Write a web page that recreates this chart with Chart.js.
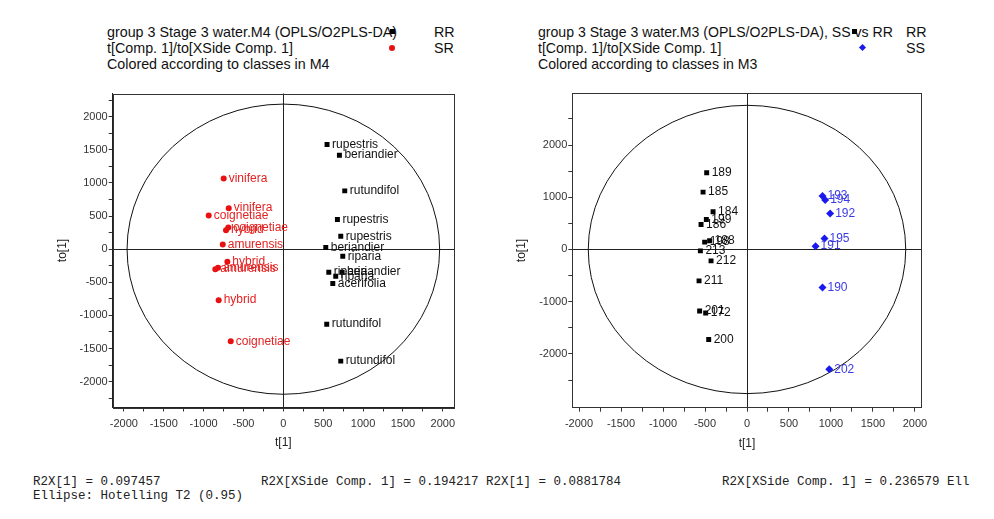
<!DOCTYPE html>
<html lang="en">
<head>
  <meta charset="UTF-8">
  <title>OPLS-DA score plots M4 / M3</title>
  <script src="https://cdn.jsdelivr.net/npm/chart.js"></script>
  <style>
    body {
      margin: 0;
      width: 994px;
      height: 519px;
      background: #fff;
      position: relative;
      overflow: hidden;
      font-family: "Liberation Sans", Arial, sans-serif;
      color: #111;
    }
    .hdr {
      position: absolute;
      font-size: 14.3px;
      line-height: 16px;
      white-space: nowrap;
    }
    .txt {
      position: absolute;
      font-size: 14.3px;
      line-height: 16px;
      white-space: nowrap;
    }
    .mk { position: absolute; }
    .foot {
      position: absolute;
      font-family: "Liberation Mono", "Courier New", monospace;
      font-size: 12.5px;
      line-height: 14px;
      white-space: pre;
      color: #222;
    }
    canvas { position: absolute; top: 85px; }
  </style>
</head>
<body>

  <div class="hdr" style="left:107px; top:24px;">group 3 Stage 3 water.M4 (OPLS/O2PLS-DA)<br>t[Comp. 1]/to[XSide Comp. 1]<br>Colored according to classes in M4</div>
  <div class="mk" style="left:390px; top:29px; width:5px; height:5px; background:#000;"></div>
  <div class="txt" style="left:434px; top:24px;">RR</div>
  <div class="mk" style="left:389px; top:45px; width:6px; height:6px; border-radius:50%; background:#e81010;"></div>
  <div class="txt" style="left:434px; top:40px;">SR</div>

  <div class="hdr" style="left:538px; top:24px; font-size:14.1px;">group 3 Stage 3 water.M3 (OPLS/O2PLS-DA), SS vs RR<br>t[Comp. 1]/to[XSide Comp. 1]<br>Colored according to classes in M3</div>
  <div class="mk" style="left:852px; top:29px; width:5px; height:5px; background:#000;"></div>
  <div class="txt" style="left:906px; top:24px;">RR</div>
  <div class="mk" style="left:860px; top:45px; width:5px; height:5px; background:#1a1aee; transform:rotate(45deg);"></div>
  <div class="txt" style="left:906px; top:40px;">SS</div>

  <canvas id="chartM4" width="480" height="385" style="left:0px;"></canvas>
  <canvas id="chartM3" width="480" height="385" style="left:480px;"></canvas>

  <div class="foot" style="left:33px; top:475px;">R2X[1] = 0.097457</div>
  <div class="foot" style="left:33px; top:489px;">Ellipse: Hotelling T2 (0.95)</div>
  <div class="foot" style="left:261px; top:475px;">R2X[XSide Comp. 1] = 0.194217 R2X[1] = 0.0881784</div>
  <div class="foot" style="left:722px; top:475px;">R2X[XSide Comp. 1] = 0.236579 Ell</div>

  <script>
    // M4: RR (black squares)
    const m4RRNames = ['rupestris', 'beriandier', 'rutundifol', 'rupestris', 'rupestris', 'beriandier', 'riparia',
                       'riparia', 'beriandier', 'riparia', 'acerifolia', 'rutundifol', 'rutundifol'];
    const m4RRx = [548, 703, 770, 678, 720, 532, 745, 570, 737, 657, 620, 544, 720];
    const m4RRy = [1580, 1419, 880, 448, 196, 26, -106, -347, -347, -408, -518, -1132, -1690];

    // M4: SR (red circles)
    const m4SRNames = ['vinifera', 'vinifera', 'coignetiae', 'coignetiae', 'hybrid', 'amurensis', 'hybrid',
                       'amurensis', 'amurensis', 'hybrid', 'coignetiae'];
    const m4SRx = [-748, -685, -936, -690, -719, -760, -702, -853, -819, -811, -660];
    const m4SRy = [1067, 619, 508, 328, 287, 71, -191, -302, -282, -770, -1389];

    // M3: RR (black squares)
    const m3RRNames = ['189', '185', '184', '199', '186', '198', '188', '213', '212', '211', '201', '172', '200'];
    const m3RRx = [-480, -523, -404, -484, -547, -504, -445, -555, -428, -571, -564, -492, -456];
    const m3RRy = [1468, 1098, 721, 575, 479, 140, 165, -27, -219, -602, -1177, -1215, -1725];

    // M3: SS (blue diamonds)
    const m3SSNames = ['193', '194', '192', '195', '191', '190', '202'];
    const m3SSx = [899, 931, 990, 923, 816, 899, 979];
    const m3SSy = [1022, 945, 690, 211, 63, -728, -2294];

    // Hotelling T2 (0.95) ellipse semi-axes [t, to]
    const m4Ellipse = [1960, 2190];
    const m3Ellipse = [1890, 2760];

    // tick marks and labelled ticks
    const xTicks = [-2000, -1750, -1500, -1250, -1000, -750, -500, -250, 0, 250, 500, 750, 1000, 1250, 1500, 1750, 2000];
    const xTickLabels = [-2000, -1500, -1000, -500, 0, 500, 1000, 1500, 2000];
    const m4YTicks = [-2250, -2000, -1750, -1500, -1250, -1000, -750, -500, -250, 0, 250, 500, 750, 1000, 1250, 1500, 1750, 2000, 2250];
    const m4YTickLabels = [-2000, -1500, -1000, -500, 0, 500, 1000, 1500, 2000];
    const m3YTicks = [-2500, -2000, -1500, -1000, -500, 0, 500, 1000, 1500, 2000, 2500];
    const m3YTickLabels = [-2000, -1000, 0, 1000, 2000];

    const toPoints = (xs, ys) => xs.map((x, i) => ({ x, y: ys[i] }));

    const frameEllipseLabels = {
      id: 'frameEllipseLabels',
      beforeDatasetsDraw(chart, args, opts) {
        const { ctx, chartArea, scales: { x, y } } = chart;
        const cx = x.getPixelForValue(0), cy = y.getPixelForValue(0);
        const rx = Math.abs(x.getPixelForValue(opts.ellipse[0]) - cx);
        const ry = Math.abs(y.getPixelForValue(opts.ellipse[1]) - cy);
        ctx.save();
        ctx.beginPath();
        ctx.rect(chartArea.left, chartArea.top, chartArea.width, chartArea.height);
        ctx.clip();
        ctx.beginPath();
        ctx.ellipse(cx, cy, rx, ry, 0, 0, Math.PI * 2);
        ctx.strokeStyle = '#111';
        ctx.lineWidth = 1;
        ctx.stroke();
        ctx.restore();
      },
      afterDatasetsDraw(chart) {
        const { ctx, chartArea } = chart;
        ctx.save();
        ctx.font = '12px "Liberation Sans", Arial, sans-serif';
        ctx.textAlign = 'left';
        ctx.textBaseline = 'middle';
        chart.data.datasets.forEach((ds, i) => {
          const meta = chart.getDatasetMeta(i);
          ctx.fillStyle = ds.labelColor;
          meta.data.forEach((pt, j) => {
            ctx.fillText(ds.names[j], pt.x + 5, pt.y);
          });
        });
        ctx.strokeStyle = '#333';
        ctx.lineWidth = 1;
        ctx.strokeRect(Math.round(chartArea.left) + 0.5, Math.round(chartArea.top) + 0.5,
                       Math.round(chartArea.width), Math.round(chartArea.height));
        ctx.restore();
      }
    };

    function axis(opts) {
      return {
        type: 'linear',
        min: opts.min,
        max: opts.max,
        afterFit: s => { if (opts.w) s.width = opts.w; if (opts.h) s.height = opts.h; },
        afterBuildTicks: s => { s.ticks = opts.ticks.map(v => ({ value: v })); },
        title: {
          display: true,
          text: opts.title,
          color: '#222',
          font: { family: '"Liberation Sans", Arial', size: 12 },
          padding: opts.titlePad
        },
        border: { display: true, color: '#222' },
        grid: {
          color: c => (c.tick && c.tick.value === 0) ? '#222' : 'rgba(0,0,0,0)',
          tickColor: '#333',
          tickLength: 4,
          drawTicks: true
        },
        ticks: {
          autoSkip: false,
          maxRotation: 0,
          padding: opts.tickPad,
          color: '#333',
          font: { family: '"Liberation Sans", Arial', size: 11 },
          callback: v => (opts.labels.includes(v) ? String(v) : '')
        }
      };
    }

    function makeChart(id, sets, ell, xr, yr, pad, yW, yTitlePad, yTicks, yLabels) {
      new Chart(document.getElementById(id), {
        type: 'scatter',
        data: { datasets: sets },
        options: {
          responsive: false,
          animation: false,
          events: [],
          layout: { padding: pad },
          plugins: {
            legend: { display: false },
            tooltip: { enabled: false },
            frameEllipseLabels: { ellipse: ell }
          },
          scales: {
            x: axis({ min: xr[0], max: xr[1], h: 50, title: 't[1]', titlePad: { top: 2, bottom: 7.3 },
                      ticks: xTicks, labels: xTickLabels, tickPad: 6 }),
            y: axis({ min: yr[0], max: yr[1], w: yW, title: 'to[1]', titlePad: { top: yTitlePad, bottom: 0 },
                      ticks: yTicks, labels: yLabels, tickPad: 1 })
          }
        },
        plugins: [frameEllipseLabels]
      });
    }

    const rrStyle = { pointStyle: 'rect', pointRadius: 3.5, backgroundColor: '#000', borderWidth: 0, labelColor: '#111' };
    const srStyle = { pointStyle: 'circle', pointRadius: 3, backgroundColor: '#e81010', borderWidth: 0, labelColor: '#e42222' };
    const ssStyle = { pointStyle: 'rectRot', pointRadius: 4, backgroundColor: '#1a1aee', borderWidth: 0, labelColor: '#3b3be6' };

    makeChart('chartM4', [
      Object.assign({ label: 'RR', data: toPoints(m4RRx, m4RRy), names: m4RRNames }, rrStyle),
      Object.assign({ label: 'SR', data: toPoints(m4SRx, m4SRy), names: m4SRNames }, srStyle)
    ], m4Ellipse, [-2140, 2140], [-2390, 2350],
      { left: 20, top: 8.5, right: 26, bottom: 12.5 }, 92.7, 35.8, m4YTicks, m4YTickLabels);

    makeChart('chartM3', [
      Object.assign({ label: 'RR', data: toPoints(m3RRx, m3RRy), names: m3RRNames }, rrStyle),
      Object.assign({ label: 'SS', data: toPoints(m3SSx, m3SSy), names: m3SSNames }, ssStyle)
    ], m3Ellipse, [-2080, 2080], [-3030, 2990],
      { left: 20, top: 8.3, right: 38.3, bottom: 12.3 }, 72.3, 14.8, m3YTicks, m3YTickLabels);
  </script>

</body>
</html>
